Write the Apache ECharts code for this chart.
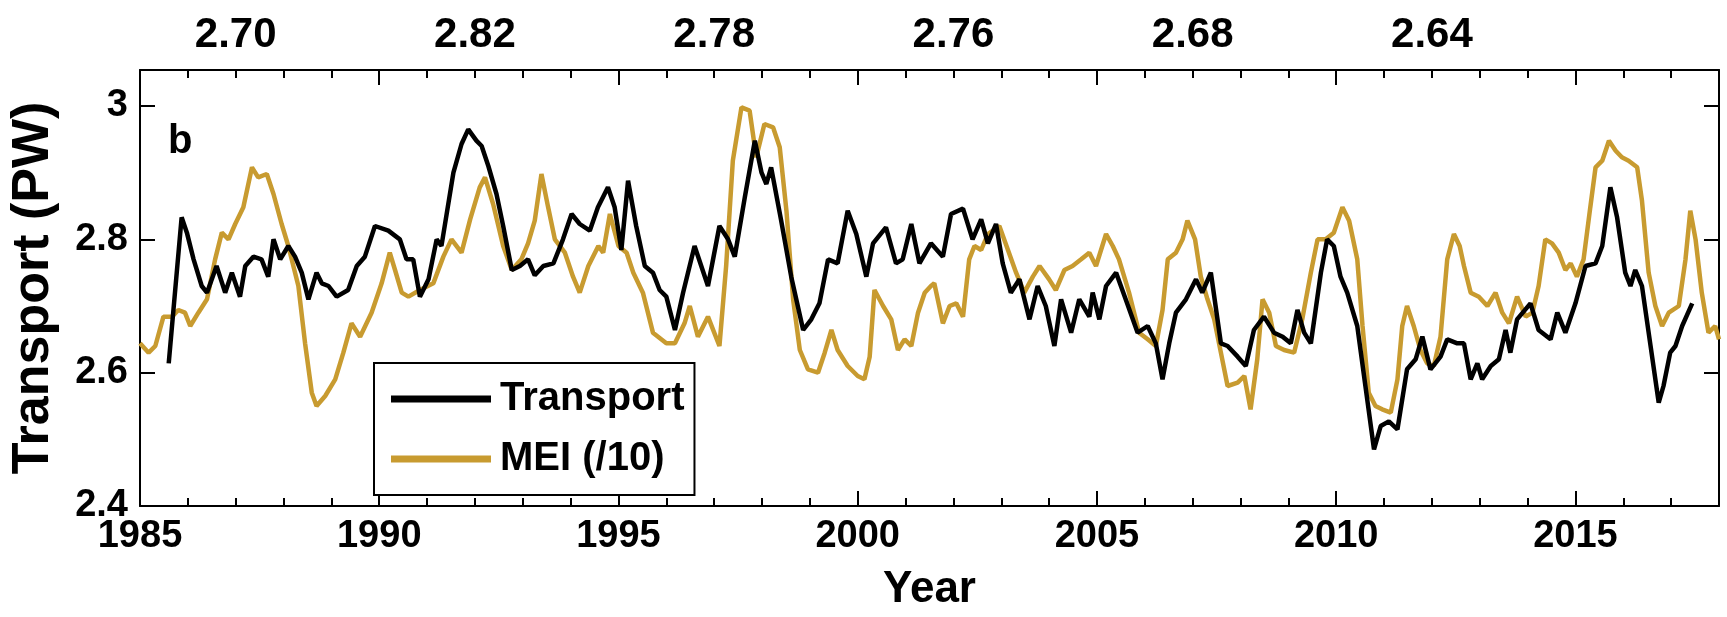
<!DOCTYPE html>
<html>
<head>
<meta charset="utf-8">
<script src="https://cdn.jsdelivr.net/npm/echarts@6/dist/echarts.min.js"></script>
<style>html,body{margin:0;padding:0;background:#fff}#c{width:1727px;height:617px}</style>
</head>
<body>
<div id="c"></div>
<script>
// ---- data ----
const transportYear = [1985.60,1985.87,1985.98,1986.12,1986.29,1986.40,1986.60,1986.78,1986.92,1987.09,1987.20,1987.37,1987.54,1987.68,1987.79,1987.93,1988.10,1988.24,1988.38,1988.52,1988.69,1988.80,1988.94,1989.11,1989.35,1989.53,1989.70,1989.91,1990.19,1990.43,1990.57,1990.71,1990.85,1991.03,1991.20,1991.30,1991.55,1991.72,1991.86,1992.03,1992.14,1992.28,1992.45,1992.59,1992.77,1992.94,1993.11,1993.25,1993.43,1993.64,1993.84,1994.02,1994.19,1994.40,1994.57,1994.78,1994.92,1995.06,1995.20,1995.37,1995.55,1995.72,1995.86,1996.00,1996.18,1996.35,1996.59,1996.87,1997.11,1997.29,1997.43,1997.64,1997.85,1997.99,1998.09,1998.19,1998.40,1998.61,1998.86,1999.03,1999.20,1999.38,1999.58,1999.79,1999.97,2000.18,2000.32,2000.59,2000.80,2000.94,2001.12,2001.29,2001.53,2001.78,2001.95,2002.20,2002.40,2002.58,2002.72,2002.89,2003.03,2003.20,2003.38,2003.59,2003.76,2003.93,2004.11,2004.25,2004.46,2004.63,2004.84,2004.91,2005.05,2005.19,2005.40,2005.60,2005.85,2006.06,2006.23,2006.37,2006.51,2006.65,2006.86,2007.07,2007.20,2007.38,2007.59,2007.73,2007.94,2008.11,2008.28,2008.49,2008.70,2008.88,2009.05,2009.19,2009.33,2009.47,2009.68,2009.81,2009.95,2010.09,2010.23,2010.44,2010.61,2010.79,2010.93,2011.10,2011.28,2011.48,2011.66,2011.80,2011.97,2012.18,2012.32,2012.53,2012.67,2012.81,2012.95,2013.05,2013.23,2013.40,2013.54,2013.64,2013.78,2014.06,2014.23,2014.48,2014.62,2014.79,2015.00,2015.21,2015.42,2015.56,2015.73,2015.87,2016.04,2016.15,2016.25,2016.39,2016.57,2016.74,2016.84,2016.98,2017.09,2017.23,2017.44];
const transportValue = [2.614,2.833,2.81,2.77,2.73,2.72,2.76,2.72,2.75,2.714,2.76,2.774,2.77,2.744,2.80,2.77,2.79,2.774,2.75,2.71,2.75,2.734,2.73,2.714,2.724,2.76,2.774,2.82,2.813,2.80,2.77,2.77,2.714,2.74,2.80,2.79,2.90,2.943,2.965,2.948,2.94,2.91,2.868,2.82,2.754,2.76,2.77,2.746,2.76,2.764,2.80,2.838,2.823,2.813,2.848,2.878,2.848,2.784,2.888,2.82,2.76,2.75,2.724,2.714,2.664,2.72,2.79,2.73,2.82,2.80,2.774,2.863,2.948,2.90,2.883,2.908,2.828,2.744,2.664,2.68,2.704,2.77,2.764,2.843,2.808,2.744,2.794,2.818,2.764,2.77,2.823,2.764,2.794,2.774,2.838,2.846,2.80,2.83,2.794,2.823,2.764,2.72,2.74,2.68,2.73,2.70,2.64,2.71,2.66,2.71,2.684,2.72,2.68,2.73,2.75,2.71,2.66,2.67,2.644,2.59,2.644,2.69,2.71,2.74,2.72,2.75,2.644,2.64,2.624,2.61,2.664,2.684,2.66,2.654,2.644,2.694,2.66,2.644,2.75,2.80,2.79,2.744,2.72,2.67,2.58,2.485,2.52,2.527,2.515,2.605,2.62,2.654,2.605,2.624,2.65,2.644,2.644,2.59,2.614,2.59,2.61,2.62,2.664,2.63,2.68,2.704,2.664,2.65,2.69,2.66,2.704,2.76,2.764,2.79,2.878,2.833,2.75,2.73,2.754,2.73,2.64,2.555,2.58,2.63,2.64,2.67,2.704];

const meiYear = [1985.00,1985.18,1985.32,1985.49,1985.67,1985.80,1985.94,1986.05,1986.22,1986.40,1986.57,1986.71,1986.85,1986.99,1987.16,1987.34,1987.47,1987.65,1987.79,1987.96,1988.10,1988.31,1988.45,1988.59,1988.69,1988.87,1989.08,1989.25,1989.42,1989.60,1989.84,1990.05,1990.22,1990.33,1990.47,1990.61,1990.85,1991.13,1991.34,1991.51,1991.72,1991.90,1992.10,1992.21,1992.38,1992.59,1992.77,1992.97,1993.11,1993.25,1993.39,1993.53,1993.67,1993.88,1994.05,1994.19,1994.37,1994.58,1994.68,1994.82,1995.00,1995.17,1995.31,1995.51,1995.72,1996.00,1996.18,1996.38,1996.49,1996.66,1996.87,1997.11,1997.25,1997.39,1997.57,1997.74,1997.88,1998.05,1998.23,1998.37,1998.51,1998.65,1998.79,1998.96,1999.17,1999.31,1999.45,1999.58,1999.79,2000.00,2000.14,2000.25,2000.35,2000.53,2000.70,2000.84,2000.98,2001.12,2001.26,2001.40,2001.53,2001.60,2001.78,2001.92,2002.06,2002.20,2002.33,2002.44,2002.58,2002.72,2002.96,2003.14,2003.31,2003.48,2003.66,2003.80,2004.00,2004.14,2004.32,2004.49,2004.67,2004.84,2004.98,2005.19,2005.33,2005.46,2005.67,2005.88,2006.06,2006.23,2006.37,2006.48,2006.65,2006.79,2006.89,2007.05,2007.17,2007.31,2007.45,2007.59,2007.73,2007.94,2008.08,2008.21,2008.35,2008.46,2008.60,2008.74,2008.91,2009.12,2009.29,2009.47,2009.61,2009.78,2009.95,2010.13,2010.27,2010.44,2010.55,2010.68,2010.82,2010.96,2011.14,2011.28,2011.38,2011.48,2011.62,2011.76,2011.90,2012.04,2012.18,2012.32,2012.46,2012.58,2012.67,2012.81,2012.98,2013.16,2013.33,2013.47,2013.61,2013.78,2013.96,2014.10,2014.23,2014.37,2014.51,2014.65,2014.79,2014.90,2015.03,2015.17,2015.31,2015.42,2015.56,2015.70,2015.84,2015.97,2016.11,2016.29,2016.39,2016.53,2016.67,2016.81,2016.95,2017.16,2017.30,2017.40,2017.51,2017.64,2017.78,2017.92,2018.00];
const meiValue = [2.644,2.63,2.64,2.684,2.684,2.694,2.69,2.67,2.69,2.71,2.77,2.81,2.80,2.823,2.848,2.908,2.893,2.898,2.868,2.823,2.79,2.73,2.644,2.57,2.55,2.565,2.59,2.63,2.674,2.654,2.69,2.734,2.78,2.754,2.72,2.714,2.724,2.734,2.774,2.80,2.78,2.83,2.878,2.893,2.853,2.79,2.754,2.77,2.794,2.828,2.898,2.848,2.80,2.78,2.744,2.72,2.76,2.79,2.78,2.838,2.79,2.78,2.75,2.72,2.66,2.644,2.644,2.674,2.70,2.654,2.684,2.64,2.76,2.918,2.998,2.993,2.923,2.973,2.968,2.938,2.843,2.71,2.634,2.605,2.60,2.63,2.664,2.634,2.61,2.595,2.59,2.624,2.724,2.70,2.68,2.634,2.65,2.64,2.69,2.72,2.73,2.734,2.674,2.70,2.704,2.684,2.77,2.79,2.784,2.808,2.82,2.784,2.75,2.72,2.744,2.76,2.74,2.724,2.754,2.76,2.77,2.78,2.76,2.808,2.79,2.77,2.72,2.66,2.65,2.64,2.694,2.77,2.78,2.80,2.828,2.80,2.744,2.71,2.68,2.63,2.58,2.585,2.595,2.545,2.62,2.71,2.69,2.64,2.634,2.63,2.68,2.75,2.80,2.80,2.81,2.848,2.828,2.77,2.67,2.57,2.55,2.545,2.54,2.59,2.67,2.70,2.67,2.634,2.614,2.61,2.654,2.77,2.808,2.79,2.76,2.72,2.714,2.70,2.72,2.69,2.674,2.714,2.684,2.69,2.73,2.80,2.794,2.78,2.754,2.764,2.744,2.77,2.848,2.908,2.918,2.948,2.933,2.923,2.918,2.908,2.858,2.75,2.70,2.67,2.69,2.70,2.77,2.843,2.80,2.72,2.66,2.67,2.65];

const topYears = [1987, 1992, 1997, 2002, 2007, 2012];
const topLabels = ['2.70', '2.82', '2.78', '2.76', '2.68', '2.64'];
const yTicks = [2.4, 2.6, 2.8, 3.0];
const yTickLabels = ['2.4', '2.6', '2.8', '3'];
const seriesNames = ['Transport', 'MEI (/10)'];

// ---- chart ----
const FONT = 'Liberation Sans, Arial, sans-serif';
const black = '#000';
const gold = '#C89B30';
const lineCol = {color: black, width: 2};

function xAxisBase(extra) {
  return Object.assign({
    type: 'value', min: 1985, max: 2018,
    splitLine: {show: false},
    axisLine: {show: false, lineStyle: lineCol},
    axisTick: {show: true, inside: true, length: 8, lineStyle: lineCol},
    axisLabel: {show: false}
  }, extra);
}

const chart = echarts.init(document.getElementById('c'), null, {renderer: 'canvas'});
chart.setOption({
  animation: false,
  backgroundColor: '#fff',
  grid: {left: 140, right: 8, top: 70, bottom: 109, containLabel: false},
  xAxis: [
    xAxisBase({
      position: 'bottom', interval: 5,
      axisLine: {show: true, onZero: false, lineStyle: lineCol},
      axisTick: {show: true, inside: true, length: 15, lineStyle: lineCol},
      axisLabel: {show: true, margin: 12, color: black, fontSize: 38, fontWeight: 'bold', fontFamily: FONT,
        formatter: v => (Math.abs(v % 5) < 1e-6 ? String(Math.round(v)) : '')},
      name: 'Year', nameLocation: 'middle', nameGap: 62,
      nameTextStyle: {color: black, fontSize: 44, fontWeight: 'bold', fontFamily: FONT}
    }),
    xAxisBase({position: 'bottom', interval: 1}),
    xAxisBase({
      position: 'top', interval: 5,
      axisLine: {show: true, onZero: false, lineStyle: lineCol},
      axisTick: {show: true, inside: true, length: 15, lineStyle: lineCol}
    }),
    xAxisBase({
      position: 'top', interval: 1,
      axisLabel: {show: true, margin: 14, color: black, fontSize: 42, fontWeight: 'bold', fontFamily: FONT,
        formatter: v => { const i = topYears.indexOf(Math.round(v)); return (i >= 0 && Math.abs(v - Math.round(v)) < 1e-6) ? topLabels[i] : ''; }}
    })
  ],
  yAxis: [
    {
      type: 'value', position: 'left', min: 2.4, max: 3.054, interval: 0.2,
      splitLine: {show: false},
      axisLine: {show: true, onZero: false, lineStyle: lineCol},
      axisTick: {show: true, inside: true, length: 15, lineStyle: lineCol},
      axisLabel: {show: true, margin: 12, color: black, fontSize: 38, fontWeight: 'bold', fontFamily: FONT,
        formatter: v => { for (let i = 0; i < yTicks.length; i++) { if (Math.abs(v - yTicks[i]) < 1e-6) return yTickLabels[i]; } return ''; }},
      name: 'Transport (PW)', nameLocation: 'middle', nameGap: 80, nameRotate: 90,
      nameTextStyle: {color: black, fontSize: 52, fontWeight: 'bold', fontFamily: FONT}
    },
    {
      type: 'value', position: 'right', min: 2.4, max: 3.054, interval: 0.2,
      splitLine: {show: false},
      axisLine: {show: true, onZero: false, lineStyle: lineCol},
      axisTick: {show: true, inside: true, length: 15, lineStyle: lineCol},
      axisLabel: {show: false}
    }
  ],
  legend: {
    show: true, orient: 'vertical', left: 374, top: 363,
    padding: [16, 10, 16, 17],
    itemWidth: 100, itemHeight: 7, itemGap: 20,
    borderColor: black, borderWidth: 2, backgroundColor: '#fff',
    z: 10,
    textStyle: {color: black, fontSize: 40, fontWeight: 'bold', fontFamily: FONT, padding: [0, 0, 0, 4]},
    data: [
      {name: seriesNames[0], icon: 'rect', itemStyle: {color: black}},
      {name: seriesNames[1], icon: 'rect', itemStyle: {color: gold}}
    ]
  },
  graphic: [
    {type: 'text', left: 168, top: 122, z: 5,
     style: {text: 'b', fill: black, font: 'bold 40px ' + FONT}}
  ],
  series: [
    {
      name: seriesNames[1], type: 'line', xAxisIndex: 0, yAxisIndex: 0,
      data: meiYear.map((x, i) => [x, meiValue[i]]),
      symbol: 'none', showSymbol: false, clip: true,
      lineStyle: {color: gold, width: 4.5}, itemStyle: {color: gold}, z: 2
    },
    {
      name: seriesNames[0], type: 'line', xAxisIndex: 0, yAxisIndex: 0,
      data: transportYear.map((x, i) => [x, transportValue[i]]),
      symbol: 'none', showSymbol: false, clip: true,
      lineStyle: {color: black, width: 4.5}, itemStyle: {color: black}, z: 3
    }
  ]
});
</script>
</body>
</html>
